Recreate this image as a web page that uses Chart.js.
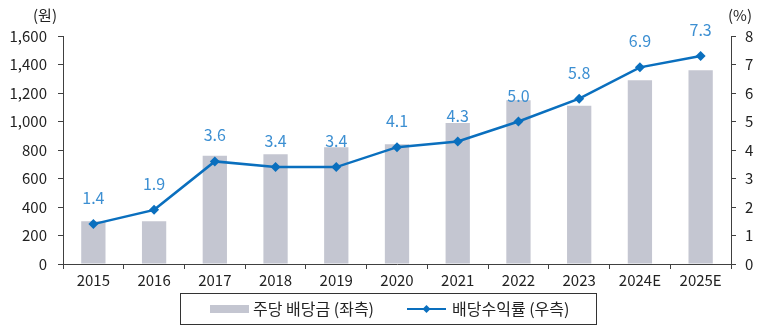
<!DOCTYPE html>
<html>
<head>
<meta charset="utf-8">
<script src="https://cdn.jsdelivr.net/npm/chart.js@4.4.1/dist/chart.umd.min.js"></script>
<style>
  html, body { margin: 0; padding: 0; background: #fff; }
  #wrap { width: 763px; height: 328px; position: relative; }
</style>
</head>
<body>
<div id="wrap"><canvas id="chart"></canvas></div>
<script>
const years = ['2015', '2016', '2017', '2018', '2019', '2020', '2021', '2022', '2023', '2024E', '2025E'];
const dps = [300, 300, 760, 770, 820, 840, 990, 1150, 1110, 1290, 1360];      // 주당 배당금 (원)
const yieldPct = [1.4, 1.9, 3.6, 3.4, 3.4, 4.1, 4.3, 5.0, 5.8, 6.9, 7.3];    // 배당수익률 (%)

const FONT = '"Noto Sans CJK KR", "Noto Sans", sans-serif';
const barColor = '#c4c6d1';
const lineColor = '#0a6fbe';
const labelColor = '#3c8fd2';
const axisColor = '#404040';

const extras = {
    id: 'extras',
    afterDatasetsDraw(chart) {
        const ctx = chart.ctx;
        const meta = chart.getDatasetMeta(1);
        ctx.save();
        ctx.font = '16px ' + FONT;
        ctx.fillStyle = labelColor;
        ctx.textAlign = 'center';
        ctx.textBaseline = 'middle';
        meta.data.forEach((pt, i) => {
            ctx.fillText(yieldPct[i].toFixed(1), pt.x, pt.y - 26);
        });
        ctx.restore();
    },
    afterDraw(chart) {
        const ctx = chart.ctx;
        ctx.save();
        ctx.font = '15px ' + FONT;
        ctx.fillStyle = '#222';
        ctx.textBaseline = 'middle';
        ctx.textAlign = 'center';
        ctx.fillText('(원)', 45, 15);
        ctx.fillText('(%)', 740, 15);

        // legend, framed, under the x axis
        const ly = 309;
        ctx.strokeStyle = '#333';
        ctx.lineWidth = 1;
        ctx.strokeRect(180.5, 293.5, 416, 31);
        ctx.fillStyle = barColor;
        ctx.fillRect(210, ly - 4, 39, 8);
        ctx.strokeStyle = lineColor;
        ctx.lineWidth = 2;
        ctx.beginPath(); ctx.moveTo(407, ly); ctx.lineTo(446, ly); ctx.stroke();
        ctx.fillStyle = lineColor;
        ctx.beginPath();
        ctx.moveTo(426.5, ly - 4); ctx.lineTo(430.5, ly); ctx.lineTo(426.5, ly + 4); ctx.lineTo(422.5, ly);
        ctx.closePath(); ctx.fill();
        ctx.font = '16px ' + FONT;
        ctx.fillStyle = '#222';
        ctx.textAlign = 'left';
        ctx.fillText(chart.data.datasets[0].label, 253, ly);
        ctx.fillText(chart.data.datasets[1].label, 452, ly);
        ctx.restore();
    }
};

new Chart(document.getElementById('chart'), {
    data: {
        labels: years,
        datasets: [
            {
                type: 'bar',
                label: '주당 배당금 (좌측)',
                data: dps,
                backgroundColor: barColor,
                barPercentage: 0.4,
                categoryPercentage: 1,
                yAxisID: 'y',
                order: 2
            },
            {
                type: 'line',
                label: '배당수익률 (우측)',
                data: yieldPct,
                borderColor: lineColor,
                backgroundColor: lineColor,
                borderWidth: 2.5,
                pointStyle: 'rectRot',
                pointRadius: 5,
                pointBorderWidth: 0,
                tension: 0,
                yAxisID: 'y1',
                order: 1
            }
        ]
    },
    options: {
        responsive: true,
        maintainAspectRatio: false,
        animation: false,
        layout: { padding: { top: 36, left: 0, right: 0, bottom: 37 } },
        plugins: {
            tooltip: { enabled: false },
            legend: { display: false }
        },
        scales: {
            x: {
                offset: true,
                grid: { display: true, offset: true, drawOnChartArea: false, tickLength: 5, color: axisColor },
                border: { display: true, color: axisColor, width: 1 },
                ticks: { font: { family: FONT, size: 15 }, color: '#222', padding: 2, maxRotation: 0 }
            },
            y: {
                position: 'left',
                min: 0,
                max: 1600,
                grid: { display: true, drawOnChartArea: false, tickLength: 5, color: axisColor },
                border: { display: true, color: axisColor, width: 1 },
                ticks: {
                    stepSize: 200,
                    font: { family: FONT, size: 15 },
                    color: '#222',
                    padding: 11,
                    callback: v => v.toLocaleString('en-US')
                },
                afterFit(scale) { scale.width = 63; }
            },
            y1: {
                position: 'right',
                min: 0,
                max: 8,
                grid: { display: true, drawOnChartArea: false, tickLength: 5, color: axisColor },
                border: { display: true, color: axisColor, width: 1 },
                ticks: {
                    stepSize: 1,
                    font: { family: FONT, size: 15 },
                    color: '#222',
                    padding: 9
                },
                afterFit(scale) { scale.width = 32; }
            }
        }
    },
    plugins: [extras]
});
</script>
</body>
</html>
